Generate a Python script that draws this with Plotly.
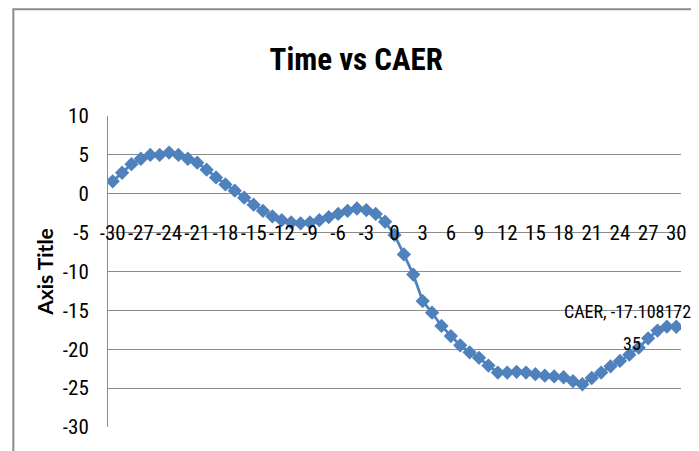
import plotly.graph_objects as go

time_vals = list(range(-30, 31))
caer_vals = [
    1.6, 2.7, 3.8, 4.5, 5.0, 5.0, 5.3, 5.0, 4.5, 4.0,
    3.1, 2.1, 1.2, 0.4, -0.5, -1.4, -2.2, -2.9, -3.4, -3.7,
    -3.8, -3.7, -3.4, -3.0, -2.6, -2.2, -1.9, -2.1, -2.6, -3.6,
    -5.3, -7.8, -10.4, -13.8, -15.3, -17.0, -18.3, -19.5, -20.4, -21.1,
    -22.1, -23.0, -23.0, -22.9, -23.0, -23.2, -23.4, -23.5, -23.6, -24.1,
    -24.5, -23.7, -23.0, -22.2, -21.5, -20.7, -19.8, -18.6, -17.6, -17.1,
    -17.10817235,
]
x_tick_vals = list(range(-30, 31, 3))
x_tick_text = [str(v) for v in x_tick_vals]
y_tick_vals = list(range(-30, 11, 5))
y_tick_text = [str(v) for v in y_tick_vals]
series_name = "CAER"
title_text = "Time vs CAER"
y_title = "Axis Title"
last_label_lines = ["CAER, -17.108172", "35"]

BLUE = "#4F81BD"
GRID = "#8C8C8C"
NARROW = "Liberation Sans Narrow, Roboto Condensed, Roboto, sans-serif"

fig = go.Figure()
fig.add_trace(go.Scatter(
    x=time_vals, y=caer_vals, name=series_name, mode="lines+markers",
    line=dict(color=BLUE, width=2.75),
    marker=dict(symbol="diamond", size=11, color=BLUE),
    showlegend=False,
))

label_shifts = [15, -17]
label_xshifts = [-49, -44]
annotations = [
    dict(x=time_vals[-1], y=caer_vals[-1], xref="x", yref="y",
         text=line, showarrow=False, xanchor="center", yanchor="middle",
         xshift=dx, yshift=dy, font=dict(family=NARROW, size=18, color="black"))
    for line, dx, dy in zip(last_label_lines, label_xshifts, label_shifts)
]

fig.update_layout(
    width=691, height=443,
    margin=dict(l=100, r=16, t=108, b=23),
    paper_bgcolor="white", plot_bgcolor="white",
    title=dict(text="<b>" + title_text + "</b>", x=0.504, xanchor="center",
               y=0.885, yanchor="middle",
               font=dict(family=NARROW, size=31, color="black")),
    xaxis=dict(range=[-30.5, 30.5], tickmode="array", tickvals=x_tick_vals,
               ticktext=x_tick_text, showgrid=False, zeroline=False,
               showline=False, anchor="free", position=0.672,
               ticks="", tickfont=dict(family=NARROW, size=21, color="black")),
    yaxis=dict(range=[-30, 10], tickmode="array", tickvals=y_tick_vals,
               ticktext=y_tick_text,
               showgrid=True, gridcolor=GRID, gridwidth=1, zeroline=False,
               showline=True, linecolor=GRID, linewidth=1,
               ticks="", ticklabelstandoff=14,
               tickfont=dict(family=NARROW, size=21, color="black"),
               title=dict(text="<b>" + y_title + "</b>", standoff=3,
                          font=dict(family="Lato, sans-serif", size=21, color="black"))),
    shapes=[dict(type="rect", xref="paper", yref="paper",
                 x0=-0.1652, y0=-0.12, x1=1.06, y1=1.343,
                 line=dict(color="#8C8C8C", width=2), fillcolor="rgba(0,0,0,0)",
                 layer="below")],
    annotations=annotations,
)

fig.write_html("out.html")
